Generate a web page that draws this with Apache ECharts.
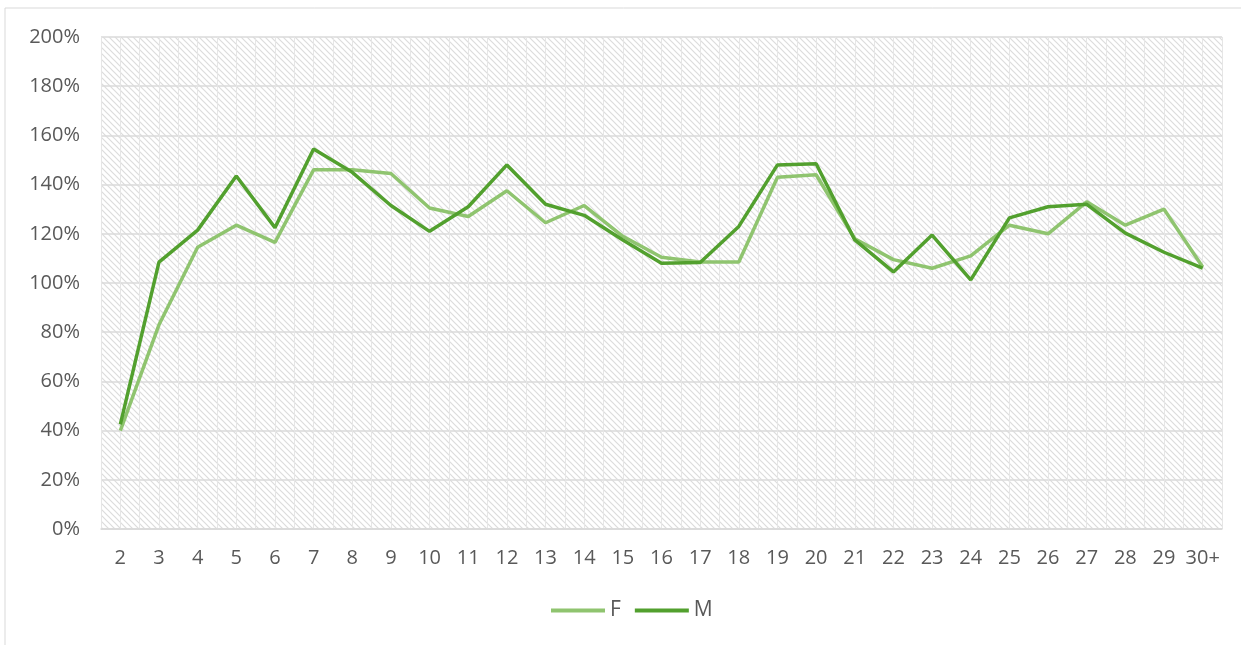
<!DOCTYPE html>
<html>
<head>
<meta charset="utf-8">
<script src="https://cdn.jsdelivr.net/npm/echarts@6/dist/echarts.min.js"></script>
<style>
  html, body { margin: 0; padding: 0; background: #fff; }
  #chart { width: 1241px; height: 645px; }
</style>
</head>
<body>
<div id="chart"></div>
<script>
// 数据
var categories = ['2','3','4','5','6','7','8','9','10','11','12','13','14','15','16','17','18','19','20','21','22','23','24','25','26','27','28','29','30+'];
var valuesF = [40, 83, 114.5, 123.5, 116.5, 146, 146, 144.5, 130.5, 127, 137.5, 124.5, 131.5, 119, 110.5, 108.5, 108.5, 143, 144, 118, 109.5, 106, 111, 123.5, 120, 133, 123.5, 130, 106.5];
var valuesM = [42.5, 108.5, 121.5, 143.5, 122.5, 154.5, 145, 131.5, 121, 131, 148, 132, 127.5, 117.5, 108, 108.3, 123, 148, 148.5, 117.5, 104.5, 119.5, 101.3, 126.5, 131, 132, 120.3, 112.5, 106];
var yTicks = [0, 20, 40, 60, 80, 100, 120, 140, 160, 180, 200];

// 斜线底纹
function makePattern() {
    var c = document.createElement('canvas');
    c.width = 6;
    c.height = 6;
    var ctx = c.getContext('2d');
    ctx.fillStyle = '#ffffff';
    ctx.fillRect(0, 0, 6, 6);
    ctx.strokeStyle = '#dcdcdc';
    ctx.lineWidth = 1.2;
    ctx.beginPath();
    ctx.moveTo(-1, -1); ctx.lineTo(7, 7);
    ctx.moveTo(-4, 2); ctx.lineTo(4, 10);
    ctx.moveTo(2, -4); ctx.lineTo(10, 4);
    ctx.stroke();
    return c;
}

var myChart = echarts.init(document.getElementById('chart'));
var labelColor = '#595959';
var font = '"Open Sans", Lato, sans-serif';

var option = {
    animation: false,
    textStyle: { fontFamily: font },
    graphic: [{
        type: 'rect',
        shape: { x: 5, y: 8, width: 1245, height: 650 },
        style: { fill: 'none', stroke: '#d9d9d9', lineWidth: 1 },
        z: -10
    }],
    grid: {
        left: 101, right: 19, top: 37, bottom: 116,
        show: true,
        borderWidth: 0,
        backgroundColor: { image: makePattern(), repeat: 'repeat' }
    },
    legend: {
        bottom: 19,
        left: 546,
        itemWidth: 54,
        itemHeight: 4,
        itemGap: 14,
        icon: 'rect',
        textStyle: { color: labelColor, fontSize: 21, fontFamily: font, padding: [0, 0, 0, 0] },
        data: ['F', 'M']
    },
    xAxis: [{
        type: 'category',
        data: categories,
        boundaryGap: true,
        axisLine: { lineStyle: { color: '#d9d9d9', width: 1.5 } },
        axisTick: { show: false },
        axisLabel: { color: labelColor, fontSize: 20, margin: 19, interval: 0, fontFamily: font },
        splitLine: { show: false }
    }, {
        type: 'value',
        min: 0,
        max: categories.length * 2,
        interval: 1,
        position: 'top',
        show: true,
        axisLine: { show: false },
        axisTick: { show: false },
        axisLabel: { show: false },
        splitLine: { show: true, lineStyle: { color: '#e6e6e6', width: 1 } }
    }],
    yAxis: {
        type: 'value',
        min: 0,
        max: 200,
        interval: 20,
        axisLine: { show: false },
        axisTick: { show: false },
        axisLabel: {
            color: labelColor, fontSize: 20, margin: 21, fontFamily: font,
            formatter: function (v) { return yTicks.indexOf(v) >= 0 ? v + '%' : ''; }
        },
        splitLine: { lineStyle: { color: '#dadada', width: 1.5 } }
    },
    series: [{
        name: 'F',
        type: 'line',
        data: valuesF,
        showSymbol: false,
        symbol: 'none',
        color: '#8fc46f',
        lineStyle: { width: 3.5, color: '#8fc46f' },
        z: 3
    }, {
        name: 'M',
        type: 'line',
        data: valuesM,
        showSymbol: false,
        symbol: 'none',
        color: '#52a02e',
        lineStyle: { width: 3.5, color: '#52a02e' },
        z: 4
    }]
};

myChart.setOption(option);
</script>
</body>
</html>
